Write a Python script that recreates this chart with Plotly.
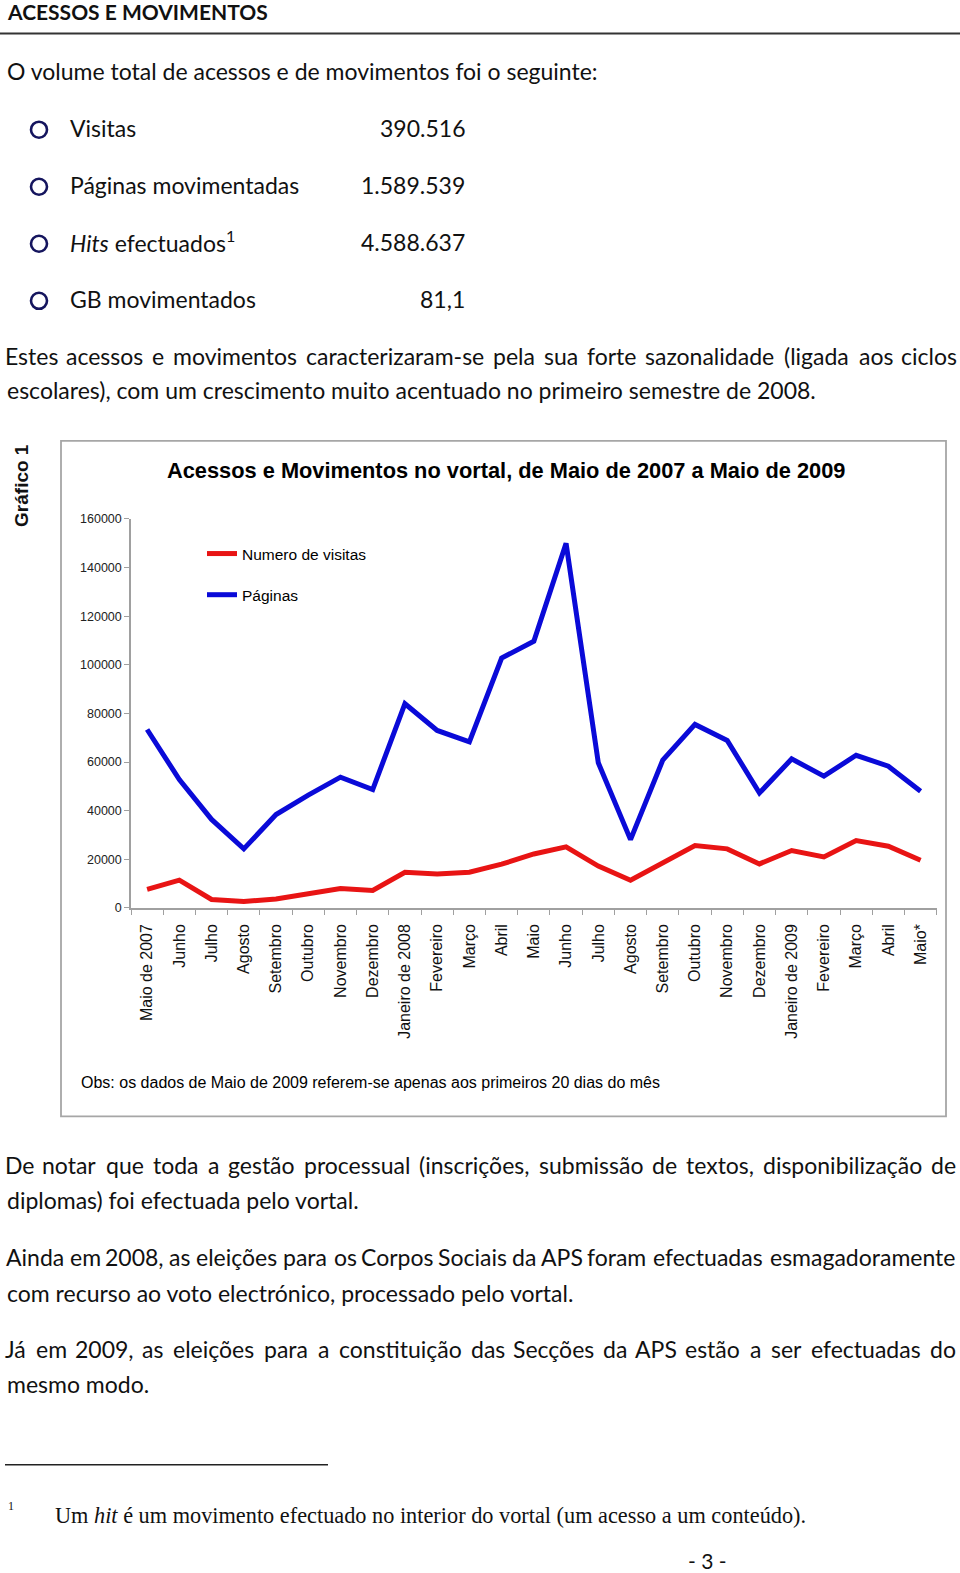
import plotly.graph_objects as go

W, H = 960, 1573

# dados do gráfico (Maio 2007 - Maio 2009)
meses = ["Maio de 2007", "Junho", "Julho", "Agosto", "Setembro", "Outubro",
         "Novembro", "Dezembro", "Janeiro de 2008", "Fevereiro", "Março", "Abril",
         "Maio", "Junho", "Julho", "Agosto", "Setembro", "Outubro", "Novembro",
         "Dezembro", "Janeiro de 2009", "Fevereiro", "Março", "Abril", "Maio*"]
visitas = [7600, 11400, 3500, 2600, 3700, 5800, 8000, 7200, 14700, 14000, 14700, 18000,
           22200, 25100, 17200, 11400, 18300, 25700, 24300, 18100, 23600, 21000, 27700,
           25400, 19600]
paginas = [73400, 52800, 36400, 24300, 38400, 46400, 53800, 48700, 84000, 73000, 68300,
           102800, 109700, 150000, 59700, 28100, 60800, 75500, 68900, 47300, 61300, 54200,
           62800, 58300, 48000]
y_ticks = list(range(0, 160001, 20000))

# resumo
resumo_nomes = ["Visitas", "Páginas movimentadas", "<i>Hits</i> efectuados<sup>1</sup>",
                "GB movimentados"]
resumo_valores = ["390.516", "1.589.539", "4.588.637", "81,1"]

BODY = "Lato"
ARIAL = "Liberation Sans"
BODY_SIZE = 23
CAL_SIZE = 24.5  # tamanho aproximado do texto original (Calibri)

# larguras aproximadas da Calibri (em), usadas só para justificar as linhas
CAL = {" ": .226, "(": .303, ")": .303, ",": .250, "-": .306, ".": .252, ":": .268,
       "A": .579, "C": .533, "D": .615, "J": .319, "P": .517, "S": .459,
       "a": .479, "b": .525, "c": .423, "d": .525, "e": .498, "f": .305, "g": .471,
       "h": .525, "i": .229, "j": .239, "k": .455, "l": .229, "m": .799, "n": .525,
       "o": .527, "p": .525, "q": .525, "r": .349, "s": .391, "t": .335, "u": .525,
       "v": .452, "w": .715, "x": .433, "y": .453, "z": .395,
       "á": .479, "ã": .479, "ç": .423, "é": .498, "õ": .527, "ó": .527, "í": .229}


def px(x):
    return x / W


def py(y):
    # a captura encolhe a página na vertical (~0.99) e desce-a ~6 px: compensa-se aqui
    return 1 - ((y - 6.4) / 0.9904) / H


annotations = []
shapes = []


def txt(x, y, s, size=BODY_SIZE, family=BODY, anchor="left", color="#111111", angle=0):
    if family == BODY:
        y -= 2  # a Lato fica um pouco abaixo do centro pedido
    annotations.append(dict(x=px(x), y=py(y), xref="paper", yref="paper", text=s,
                            showarrow=False, xanchor=anchor, yanchor="middle",
                            textangle=angle, font=dict(family=family, size=size, color=color)))


def justified(y, line, x0=6, x1=956):
    # espaçamento justificado calculado com as larguras da Calibri; cada palavra fica centrada
    words = line.split(" ")
    widths = [sum(CAL.get(c, .5) for c in w) * CAL_SIZE for w in words]
    gap = (x1 - x0 - sum(widths)) / (len(words) - 1)
    x = x0
    for w, wd in zip(words, widths):
        txt(x + wd / 2, y, w, anchor="center")
        x += wd + gap


# --- texto da página ---
txt(5, 13, "<b>ACESSOS E MOVIMENTOS</b>", size=21)
shapes.append(dict(type="line", xref="paper", yref="paper", x0=0, x1=1, y0=py(33), y1=py(33),
                   line=dict(color="#333333", width=2)))
txt(5, 72, "O volume total de acessos e de movimentos foi o seguinte:")

for i, (nome, valor) in enumerate(zip(resumo_nomes, resumo_valores)):
    yy = 129 + i * 57
    shapes.append(dict(type="circle", xref="paper", yref="paper",
                       x0=px(31), x1=px(47), y0=py(yy + 8), y1=py(yy - 8),
                       line=dict(color="#15155e", width=2.6)))
    txt(68, yy, nome)
    txt(467, yy, valor, anchor="right")

justified(357, "Estes acessos e movimentos caracterizaram-se pela sua forte sazonalidade (ligada aos ciclos")
txt(5, 391, "escolares), com um crescimento muito acentuado no primeiro semestre de 2008.")

justified(1166, "De notar que toda a gestão processual (inscrições, submissão de textos, disponibilização de")
txt(5, 1201, "diplomas) foi efectuada pelo vortal.")
justified(1258, "Ainda em 2008, as eleições para os Corpos Sociais da APS foram efectuadas esmagadoramente")
txt(5, 1293, "com recurso ao voto electrónico, processado pelo vortal.")
justified(1349, "Já em 2009, as eleições para a constituição das Secções da APS estão a ser efectuadas do")
txt(5, 1384, "mesmo modo.")

shapes.append(dict(type="line", xref="paper", yref="paper", x0=px(5), x1=px(328),
                   y0=py(1463), y1=py(1463), line=dict(color="#222222", width=1.5)))
txt(6, 1504, "1", size=12, family="Liberation Serif")
txt(53, 1514, "Um <i>hit</i> é um movimento efectuado no interior do vortal (um acesso a um conteúdo).",
    size=22.3, family="Liberation Serif")
txt(729, 1561, "- 3 -", size=21, anchor="right")

# --- gráfico ---
txt(22, 485, "<b>Gráfico 1</b>", size=19, family=ARIAL, anchor="center", angle=-90)
shapes.append(dict(type="rect", xref="paper", yref="paper", x0=px(61), x1=px(946),
                   y0=py(1115), y1=py(440), line=dict(color="#a6a6a6", width=1.8)))
txt(506, 470, "<b>Acessos e Movimentos no vortal, de Maio de 2007 a Maio de 2009</b>",
    size=21.8, family=ARIAL, anchor="center", color="#000000")
txt(79, 1081, "Obs: os dados de Maio de 2009 referem-se apenas aos primeiros 20 dias do mês",
    size=16, family=ARIAL, color="#000000")

x = list(range(len(meses)))
fig = go.Figure()
fig.add_trace(go.Scatter(x=x, y=visitas, mode="lines", name="Numero de visitas",
                         legendgroup="v", line=dict(color="#e81414", width=5)))
fig.add_trace(go.Scatter(x=x, y=paginas, mode="lines", name="Páginas",
                         legendgroup="p", line=dict(color="#0a0ad8", width=5)))

axis_gray = "#a0a0a0"
fig.update_layout(
    width=W, height=H, autosize=False,
    margin=dict(l=0, r=0, t=0, b=0),
    paper_bgcolor="white", plot_bgcolor="white",
    showlegend=True,
    legend=dict(x=px(202), y=py(536), xanchor="left", yanchor="top",
                font=dict(family=ARIAL, size=15.5, color="#000000"),
                tracegroupgap=18, bgcolor="rgba(0,0,0,0)"),
    xaxis=dict(domain=[px(131), px(936.7)], range=[-0.5, len(meses) - 0.5],
               tickmode="array", tickvals=x, ticktext=meses, tickangle=-90,
               ticks="", showgrid=False, zeroline=False,
               showline=True, linecolor=axis_gray, linewidth=1.5,
               ticklabelstandoff=8,
               tickfont=dict(family=ARIAL, size=16, color="#111111"),
               minor=dict(ticks="outside", ticklen=5, tick0=-0.5, dtick=1,
                          tickcolor=axis_gray, tickwidth=1, showgrid=False)),
    yaxis=dict(domain=[py(906.7), py(518)], range=[0, 160000],
               tickmode="array", tickvals=y_ticks, tickformat="d",
               ticks="outside", ticklen=5, tickcolor=axis_gray,
               showgrid=False, zeroline=False,
               showline=True, linecolor=axis_gray, linewidth=1.5,
               tickfont=dict(family=ARIAL, size=12.5, color="#222222")),
    annotations=annotations,
    shapes=shapes,
)

# sem a margem por omissão do <body>
fig.write_html("out.html", config={"displayModeBar": False},
               post_script="document.body.style.margin='0';document.body.style.overflow='hidden';")
